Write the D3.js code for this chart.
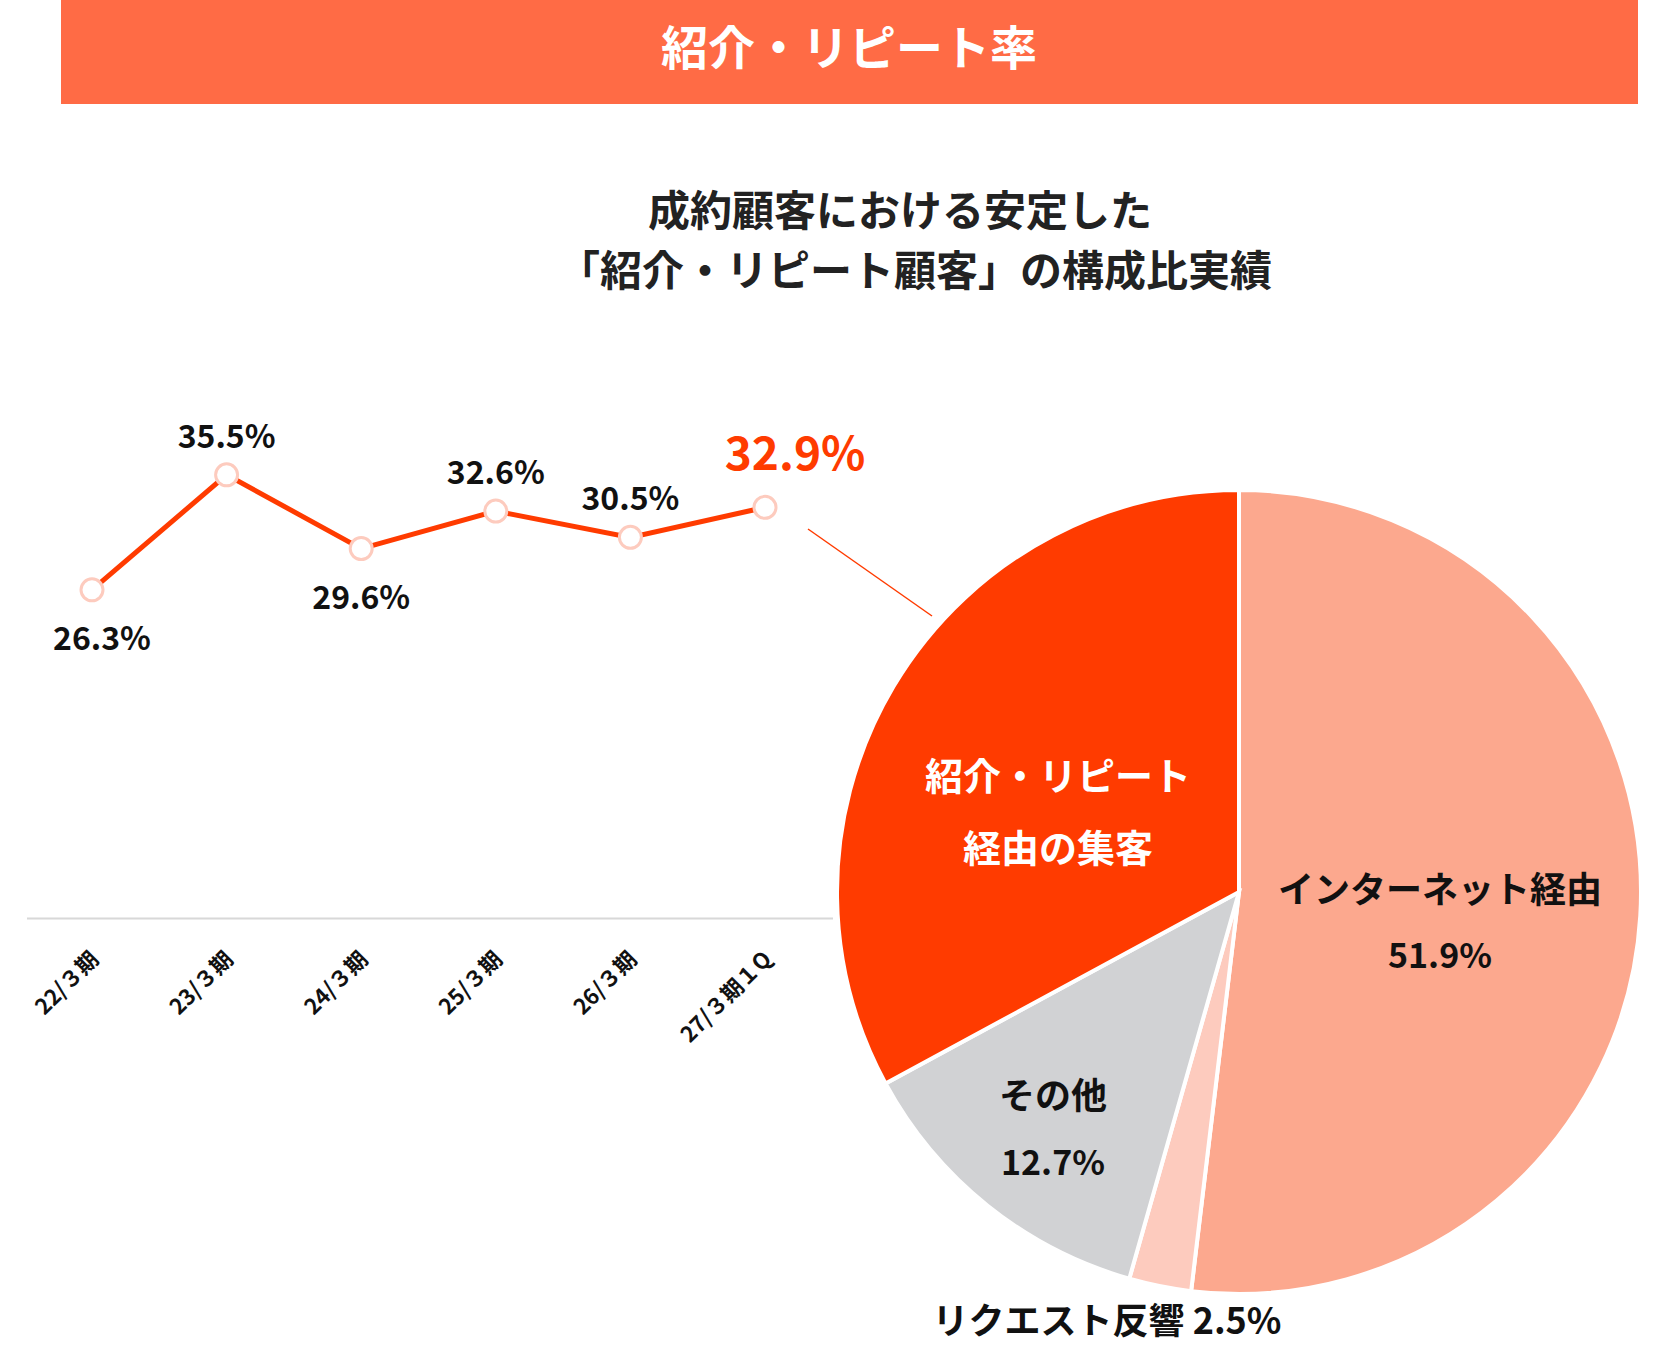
<!DOCTYPE html>
<html><head><meta charset="utf-8">
<script src="https://cdn.jsdelivr.net/npm/d3@7"></script>
<style>
body{margin:0;background:#fff;}
text{font-family:"Noto Sans CJK JP","Noto Sans",sans-serif;font-weight:700;}
</style></head>
<body><svg id="chart" width="1676" height="1350"></svg>
<script>
// 紹介・リピート率
const periods = ["22/３期", "23/３期", "24/３期", "25/３期", "26/３期", "27/３期１Q"];
const rates = [26.3, 35.5, 29.6, 32.6, 30.5, 32.9];
const labelPos = ["below", "above", "below", "above", "above", "above"];

const sliceNames = ["インターネット経由", "リクエスト反響", "その他", "紹介・リピート経由の集客"];
const sliceValues = [51.9, 2.5, 12.7, 32.9];
const sliceColors = ["#FCA88E", "#FDCBBE", "#D1D2D4", "#FF3B00"];

let svg = d3.select("#chart");

// Titelbalken
svg.append("rect").attr("x", 61).attr("y", 0).attr("width", 1577).attr("height", 104).attr("fill", "#FF6B45");
svg.append("text").attr("x", 849).attr("y", 65).attr("text-anchor", "middle")
    .attr("font-size", 47).attr("fill", "#fff").text("紹介・リピート率");

svg.append("text").attr("x", 900).attr("y", 226).attr("text-anchor", "middle")
    .attr("font-size", 42).attr("fill", "#222").text("成約顧客における安定した");
svg.append("text").attr("x", 915).attr("y", 286).attr("text-anchor", "middle")
    .attr("font-size", 42).attr("fill", "#222").text("「紹介・リピート顧客」の構成比実績");

// Linie
let xScale = d3.scalePoint().domain(periods).range([92, 765]);
let yScale = d3.scaleLinear().domain([0, 40]).range([918.6, 418.6]);

svg.append("line").attr("x1", 27).attr("x2", 833).attr("y1", yScale(0)).attr("y2", yScale(0))
    .attr("stroke", "#d8d8d8").attr("stroke-width", 2);

svg.append("g").selectAll("text").data(periods).enter().append("text")
    .attr("transform", d => `translate(${xScale(d) + 8},${yScale(0) + 42}) rotate(-45)`)
    .attr("text-anchor", "end").attr("font-size", 22).attr("fill", "#111").text(d => d);

svg.append("path").datum(rates)
    .attr("fill", "none").attr("stroke", "#FF3B00").attr("stroke-width", 5)
    .attr("d", d3.line().x((d, i) => xScale(periods[i])).y(d => yScale(d)));

svg.selectAll(".pt").data(rates).enter().append("circle")
    .attr("cx", (d, i) => xScale(periods[i])).attr("cy", d => yScale(d)).attr("r", 11)
    .attr("fill", "#fff").attr("stroke", "#FDCBBE").attr("stroke-width", 3);

svg.selectAll(".lbl").data(rates).enter().append("text")
    .attr("x", (d, i) => xScale(periods[i]) + (i == 5 ? 30 : i == 0 ? 10 : 0))
    .attr("y", (d, i) => labelPos[i] == "above" ? yScale(d) - (i == 5 ? 37 : 27) : yScale(d) + 60)
    .attr("text-anchor", "middle")
    .attr("font-size", (d, i) => i == 5 ? 46 : 32)
    .attr("fill", (d, i) => i == 5 ? "#FF3B00" : "#111")
    .text(d => d.toFixed(1) + "%");

// Verbindungslinie
svg.append("line").attr("x1", 808).attr("y1", 529).attr("x2", 932).attr("y2", 616)
    .attr("stroke", "#FF3B00").attr("stroke-width", 1.5);

// Kreis
let cx = 1239, cy = 892, r = 402;
let pie = d3.pie().sort(null)(sliceValues);
let arc = d3.arc().innerRadius(0).outerRadius(r);
svg.append("g").attr("transform", `translate(${cx},${cy})`)
    .selectAll("path").data(pie).enter().append("path")
    .attr("d", arc).attr("fill", (d, i) => sliceColors[i])
    .attr("stroke", "#fff").attr("stroke-width", 4);

function lbl(x, y, t, size, col) {
    svg.append("text").attr("x", x).attr("y", y).attr("text-anchor", "middle")
        .attr("font-size", size).attr("fill", col).text(t);
}
lbl(1058, 790, "紹介・リピート", 38, "#fff");
lbl(1058, 862, "経由の集客", 38, "#fff");
lbl(1440, 903, "インターネット経由", 36, "#111");
lbl(1440, 968, sliceValues[0].toFixed(1) + "%", 34, "#111");
lbl(1053, 1109, "その他", 36, "#111");
lbl(1053, 1175, sliceValues[2].toFixed(1) + "%", 34, "#111");
lbl(1107, 1334, "リクエスト反響 " + sliceValues[1].toFixed(1) + "%", 36, "#111");
</script></body></html>
